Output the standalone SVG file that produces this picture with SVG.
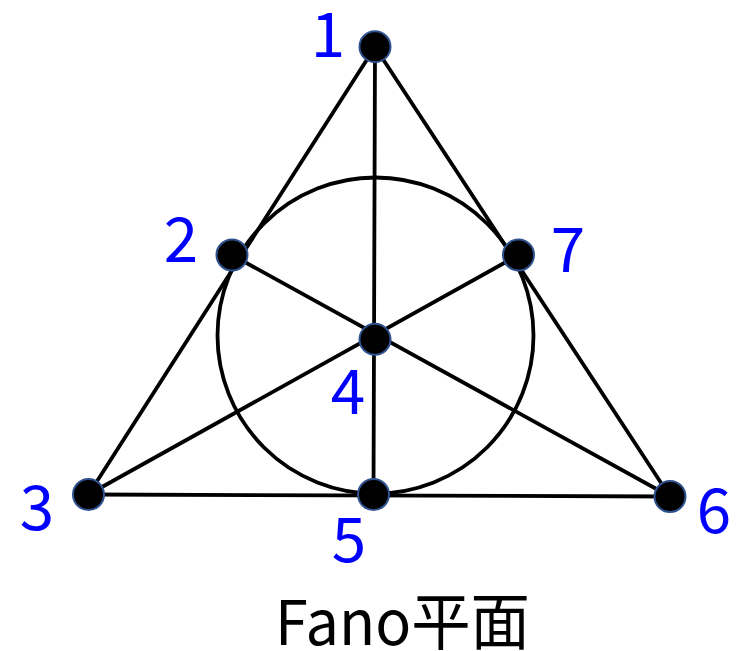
<svg xmlns="http://www.w3.org/2000/svg" width="746" height="651" viewBox="0 0 746 651">
<style>
.e{stroke:#000;stroke-width:3.8;fill:none;stroke-linecap:round}
.n{fill:#000;stroke:#2f528f;stroke-width:2}
.l{font-family:"Noto Sans CJK JP","Liberation Sans",sans-serif;font-size:62px;fill:#0000ff;text-anchor:middle}
.t{font-family:"Noto Sans CJK JP","Noto Sans",sans-serif;font-size:62px;fill:#000}
</style>
<rect width="746" height="651" fill="#fff"/>
<g id="connectors">
<circle class="e" cx="375.5" cy="335.5" r="158"/>
<line class="e" x1="375" y1="47" x2="88.5" y2="494.5"/>
<line class="e" x1="375" y1="47" x2="670" y2="496.5"/>
<line class="e" x1="88.5" y1="494.5" x2="670" y2="496.5"/>
<line class="e" x1="375" y1="47" x2="373.5" y2="494.5"/>
<line class="e" x1="232" y1="255" x2="670" y2="496.5"/>
<line class="e" x1="518.5" y1="255" x2="88.5" y2="494.5"/>
</g>
<g id="node1"><circle class="n" cx="375" cy="46.7" r="15.5"/><text class="l" x="328" y="57">1</text></g>
<g id="node2"><circle class="n" cx="232" cy="255" r="15.5"/><text class="l" x="181" y="262">2</text></g>
<g id="node3"><circle class="n" cx="88.5" cy="494.5" r="15.5"/><text class="l" x="37" y="530">3</text></g>
<g id="node4"><circle class="n" cx="375" cy="339.3" r="15.5"/><text class="l" x="348" y="414">4</text></g>
<g id="node5"><circle class="n" cx="373.5" cy="494.5" r="15.5"/><text class="l" x="349" y="562">5</text></g>
<g id="node6"><circle class="n" cx="670" cy="496.5" r="15.5"/><text class="l" x="714" y="533">6</text></g>
<g id="node7"><circle class="n" cx="518.5" cy="255" r="15.5"/><text class="l" x="568" y="272">7</text></g>
<text class="t" x="275" y="645" textLength="255" lengthAdjust="spacingAndGlyphs">Fano平面</text>
</svg>
